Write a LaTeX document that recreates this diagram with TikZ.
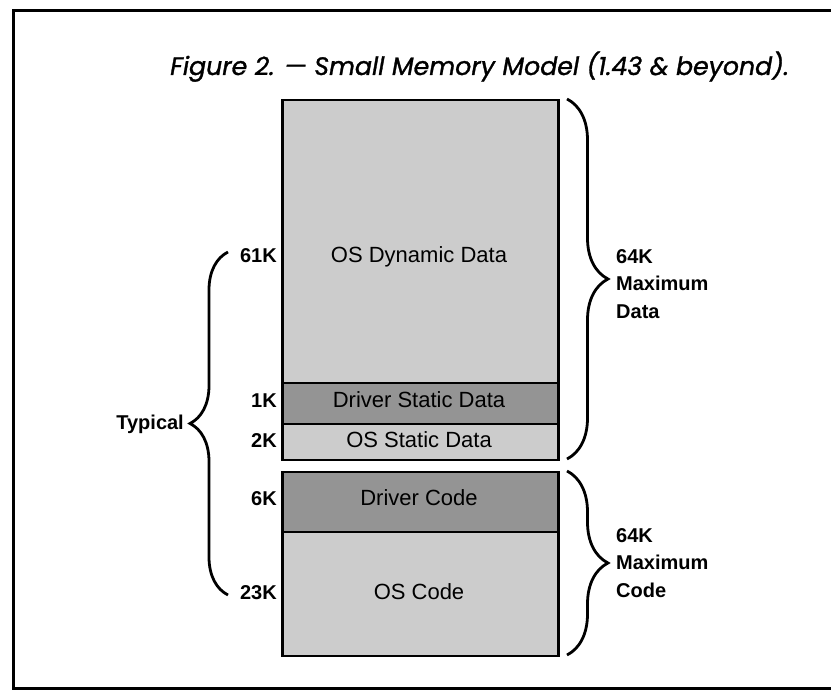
\documentclass[tikz,border=0pt]{standalone}
\usepackage{fontspec}
\setmainfont{Liberation Sans}
\newfontfamily\titlefont[FakeBold = 1.2]{Poppins}
\usetikzlibrary{decorations.pathreplacing}
\definecolor{lightdots}{gray}{0.80}
\definecolor{darkdots}{gray}{0.58}

\begin{document}
\begin{tikzpicture}
      [x = 1pt, y = -1pt,
      frame/.style = {line width = 3pt},
      block/.style = {
         draw,
         line width = 2.5pt,
         rectangle,
         inner sep = 0pt,
         minimum width = 276pt,
         anchor = north west
      },
      blocktext/.style = {
         inner sep = 0pt,
         anchor = base,
         font = \fontsize{22}{27}\selectfont
      },
      size/.style = {
         inner sep = 0pt,
         anchor = base east,
         font = \fontsize{20}{27}\selectfont\bfseries
      },
      note/.style = {
         inner sep = 0pt,
         align = left,
         anchor = west,
         font = \fontsize{20}{27.5}\selectfont\bfseries
      },
      brace/.style = {
         decorate,
         line width = 2.8pt,
         decoration = {brace, amplitude = #1}
      }]

      \useasboundingbox (0, 0) rectangle (831, 692);

      \draw[frame] (831, 11) -- (13, 11) -- (13, 688) -- (831, 688);

      \node[anchor = base west, inner sep = 0pt] (title) at (170, 75)
         {\titlefont\itshape\fontsize{25.2}{30}\selectfont Figure 2. — Small Memory Model (1.43 \& beyond).};

      \node[block, fill = lightdots, minimum height = 283pt] (dyn) at (281, 99) {};
      \node[block, fill = darkdots, minimum height = 41pt] (drvdata) at (281, 382) {};
      \node[block, fill = lightdots, minimum height = 36pt] (osdata) at (281, 423) {};
      \node[block, fill = darkdots, minimum height = 60pt] (drvcode) at (281, 471) {};
      \node[block, fill = lightdots, minimum height = 124pt] (oscode) at (281, 531) {};

      \node[blocktext] (dyntext) at (419, 263) {OS Dynamic Data};
      \node[blocktext] (drvdatatext) at (419, 408) {Driver Static Data};
      \node[blocktext] (osdatatext) at (419, 448) {OS Static Data};
      \node[blocktext] (drvcodetext) at (419, 506) {Driver Code};
      \node[blocktext] (oscodetext) at (419, 600) {OS Code};

      \node[size] (k61) at (277, 263) {61K};
      \node[size] (k1) at (277, 408) {1K};
      \node[size] (k2) at (277, 448) {2K};
      \node[size] (k6) at (277, 506) {6K};
      \node[size] (k23) at (277, 600) {23K};

      \coordinate (typtop) at (228, 252);
      \coordinate (typbot) at (228, 595);
      \coordinate (datatop) at (567, 99);
      \coordinate (databot) at (567, 459);
      \coordinate (codetop) at (567, 471);
      \coordinate (codebot) at (567, 655);

      \draw[brace = 38pt] (typbot) -- (typtop);
      \draw[brace = 41pt] (datatop) -- (databot);
      \draw[brace = 41pt] (codetop) -- (codebot);

      \node[size, anchor = base east] (typical) at (184, 430) {Typical};
      \node[note] (datanote) at (616, 284) {64K\\Maximum\\Data};
      \node[note] (codenote) at (616, 563) {64K\\Maximum\\Code};

   \end{tikzpicture}
\end{document}
